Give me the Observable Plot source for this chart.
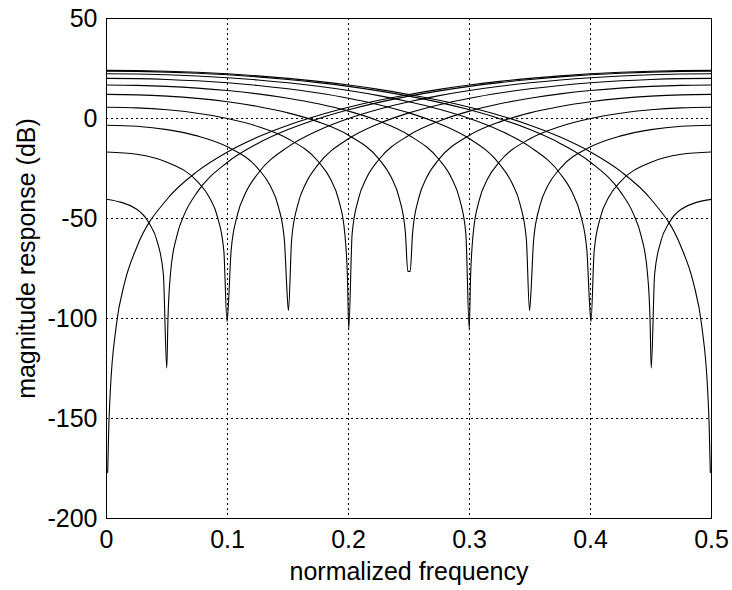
<!DOCTYPE html>
<html>
<head>
<meta charset="utf-8">
<script src="https://cdn.jsdelivr.net/npm/d3@7"></script>
<script src="https://cdn.jsdelivr.net/npm/@observablehq/plot@0.6"></script>
<style>
  html, body { margin: 0; padding: 0; background: #fff; }
</style>
</head>
<body>
<div id="chart"></div>
<script>
// ---- tick values ----
const xTicks = [0, 0.1, 0.2, 0.3, 0.4, 0.5];
const yTicks = [-200, -150, -100, -50, 0, 50];

// ---- notch frequency of each response ----
const notchFreqs = [0, 0.05, 0.1, 0.15, 0.2, 0.25, 0.3, 0.35, 0.4, 0.45, 0.5];

// ---- coarse frequency grid shared by all responses ----
const coarseFreq = [0, 0.025, 0.05, 0.075, 0.1, 0.125, 0.15, 0.175, 0.2, 0.225, 0.25,
                    0.275, 0.3, 0.325, 0.35, 0.375, 0.4, 0.425, 0.45, 0.475, 0.5];

// ---- magnitude (dB) on the coarse grid, null where the notch sits ----
const coarseDb00 = [null, -64.35, -40.37, -26.46, -16.72, -9.29, -3.35, 1.53, 5.62, 9.09, 12.04, 14.57, 16.72, 18.54, 20.07, 21.33, 22.34, 23.11, 23.65, 23.97, 24.08];
const coarseDb05 = [-40.37, -45.41, null, -36.82, -21.86, -12.47, -5.55, -0.10, 4.34, 8.05, 11.17, 13.82, 16.06, 17.95, 19.53, 20.83, 21.86, 22.65, 23.21, 23.54, 23.65];
const coarseDb10 = [-16.72, -17.88, -21.86, -31.41, null, -27.63, -14.17, -5.95, 0.00, 4.63, 8.36, 11.43, 13.98, 16.10, 17.85, 19.27, 20.40, 21.26, 21.86, 22.22, 22.34];
const coarseDb15 = [-3.36, -3.88, -5.55, -8.69, -14.17, -24.89, null, -22.90, -10.15, -2.57, 2.81, 6.91, 10.15, 12.75, 14.85, 16.53, 17.85, 18.84, 19.53, 19.94, 20.07];
const coarseDb20 = [5.62, 5.31, 4.34, 2.64, 0.00, -3.96, -10.15, -21.51, null, -20.62, -8.36, -1.25, 3.68, 7.34, 10.15, 12.32, 13.98, 15.21, 16.06, 16.56, 16.72];
const coarseDb25 = [12.04, 11.83, 11.17, 10.04, 8.36, 6.02, 2.81, -1.68, -8.36, -20.19, null, -20.19, -8.36, -1.68, 2.81, 6.02, 8.36, 10.04, 11.17, 11.83, 12.04];
const coarseDb30 = [16.72, 16.56, 16.06, 15.21, 13.98, 12.32, 10.15, 7.34, 3.68, -1.25, -8.36, -20.62, null, -21.51, -10.15, -3.96, 0.00, 2.64, 4.34, 5.31, 5.62];
const coarseDb35 = [20.07, 19.94, 19.53, 18.84, 17.85, 16.53, 14.85, 12.75, 10.15, 6.91, 2.81, -2.57, -10.15, -22.90, null, -24.89, -14.17, -8.69, -5.55, -3.88, -3.36];
const coarseDb40 = [22.34, 22.22, 21.86, 21.26, 20.40, 19.27, 17.85, 16.10, 13.98, 11.43, 8.36, 4.63, 0.00, -5.95, -14.17, -27.63, null, -31.41, -21.86, -17.88, -16.72];
const coarseDb45 = [23.65, 23.54, 23.21, 22.65, 21.86, 20.83, 19.53, 17.95, 16.06, 13.82, 11.17, 8.05, 4.34, -0.10, -5.55, -12.47, -21.86, -36.82, null, -45.41, -40.37];
const coarseDb50 = [24.08, 23.97, 23.65, 23.11, 22.34, 21.33, 20.07, 18.54, 16.72, 14.57, 12.04, 9.09, 5.62, 1.53, -3.35, -9.29, -16.72, -26.46, -40.37, -64.35, null];

// ---- extra readings close to each notch ----
const nearF00 = [0.000977, 0.001953, 0.003, 0.008, 0.015];
const nearDb00 = [-176.97, -152.9, -137.98, -103.90, -82.07];
const nearF05 = [0.035, 0.042, 0.047, 0.049805, 0.050781, 0.053, 0.058, 0.065];
const nearDb05 = [-52.14, -61.72, -77.86, -124.8, -100.6, -76.85, -59.02, -47.06];
const nearF10 = [0.085, 0.092, 0.097, 0.099609, 0.100586, 0.103, 0.108, 0.115];
const nearDb10 = [-39.41, -49.76, -66.41, -101.6, -94.5, -65.96, -48.56, -37.15];
const nearF15 = [0.135, 0.142, 0.147, 0.149414, 0.150391, 0.153, 0.158, 0.165];
const nearDb15 = [-33.30, -43.92, -60.75, -89.0, -96.0, -60.51, -43.28, -32.11];
const nearF20 = [0.185, 0.192, 0.197, 0.199219, 0.200195, 0.203, 0.208, 0.215];
const nearDb20 = [-30.15, -40.93, -57.87, -81.2, -105.3, -57.77, -40.65, -29.62];
const nearF25 = [0.235, 0.242, 0.247, 0.249023, 0.250977, 0.253, 0.258, 0.265];
const nearDb25 = [-29.01, -39.92, -56.95, -76.44, -76.44, -56.95, -39.92, -29.01];
const nearF30 = [0.285, 0.292, 0.297, 0.299805, 0.300781, 0.303, 0.308, 0.315];
const nearDb30 = [-29.62, -40.65, -57.77, -105.3, -81.2, -57.87, -40.93, -30.15];
const nearF35 = [0.335, 0.342, 0.347, 0.349609, 0.350586, 0.353, 0.358, 0.365];
const nearDb35 = [-32.11, -43.28, -60.51, -96.0, -89.0, -60.75, -43.92, -33.30];
const nearF40 = [0.385, 0.392, 0.397, 0.399414, 0.400391, 0.403, 0.408, 0.415];
const nearDb40 = [-37.15, -48.56, -65.96, -94.5, -101.6, -66.41, -49.76, -39.41];
const nearF45 = [0.435, 0.442, 0.447, 0.449219, 0.450195, 0.453, 0.458, 0.465];
const nearDb45 = [-47.06, -59.02, -76.85, -100.6, -124.8, -77.86, -61.72, -52.14];
const nearF50 = [0.485, 0.492, 0.497, 0.498047, 0.499023];
const nearDb50 = [-82.07, -103.90, -137.98, -152.9, -176.97];

// ---- assemble a table for Plot ----
const coarseSets = [coarseDb00, coarseDb05, coarseDb10, coarseDb15, coarseDb20, coarseDb25,
                    coarseDb30, coarseDb35, coarseDb40, coarseDb45, coarseDb50];
const nearFSets = [nearF00, nearF05, nearF10, nearF15, nearF20, nearF25,
                   nearF30, nearF35, nearF40, nearF45, nearF50];
const nearDbSets = [nearDb00, nearDb05, nearDb10, nearDb15, nearDb20, nearDb25,
                    nearDb30, nearDb35, nearDb40, nearDb45, nearDb50];

const rows = [];
notchFreqs.forEach((nf, k) => {
  const pts = [];
  coarseFreq.forEach((f, i) => {
    const v = coarseSets[k][i];
    if (v !== null) pts.push({curve: k, f, db: v});
  });
  nearFSets[k].forEach((f, j) => pts.push({curve: k, f, db: nearDbSets[k][j]}));
  pts.sort((a, b) => a.f - b.f);
  rows.push(...pts);
});

const chart = Plot.plot({
  width: 732,
  height: 590,
  marginLeft: 106,
  marginRight: 21,
  marginTop: 18,
  marginBottom: 72,
  style: {
    fontFamily: "'Liberation Sans', Arial, sans-serif",
    fontSize: "25px",
    background: "white",
    color: "black"
  },
  x: {domain: [0, 0.5]},
  y: {domain: [-200, 50]},
  marks: [
    Plot.gridX(xTicks, {stroke: "black", strokeOpacity: 1, strokeWidth: 1, strokeDasharray: "2,3"}),
    Plot.gridY(yTicks, {stroke: "black", strokeOpacity: 1, strokeWidth: 1, strokeDasharray: "2,3"}),
    Plot.line(rows, {x: "f", y: "db", z: "curve", stroke: "black", strokeWidth: 1.1,
                     curve: "monotone-x", clip: true}),
    Plot.frame({stroke: "black", strokeWidth: 1}),
    Plot.axisX(xTicks, {tickSize: 0, tickPadding: 12, tickFormat: d => String(d), label: null, fill: "black"}),
    Plot.axisY(yTicks, {tickSize: 0, tickPadding: 9, tickFormat: d => String(d), label: null, fill: "black"}),
    Plot.text(["normalized frequency"], {text: d => d, frameAnchor: "bottom", dy: 53,
                                         textAnchor: "middle", lineAnchor: "middle", fill: "black"}),
    Plot.text(["magnitude response (dB)"], {text: d => d, frameAnchor: "left", rotate: -90,
                                            textAnchor: "middle", dx: -80, dy: -10,
                                            lineAnchor: "middle", fill: "black"})
  ]
});

document.getElementById("chart").appendChild(chart);
</script>
</body>
</html>
